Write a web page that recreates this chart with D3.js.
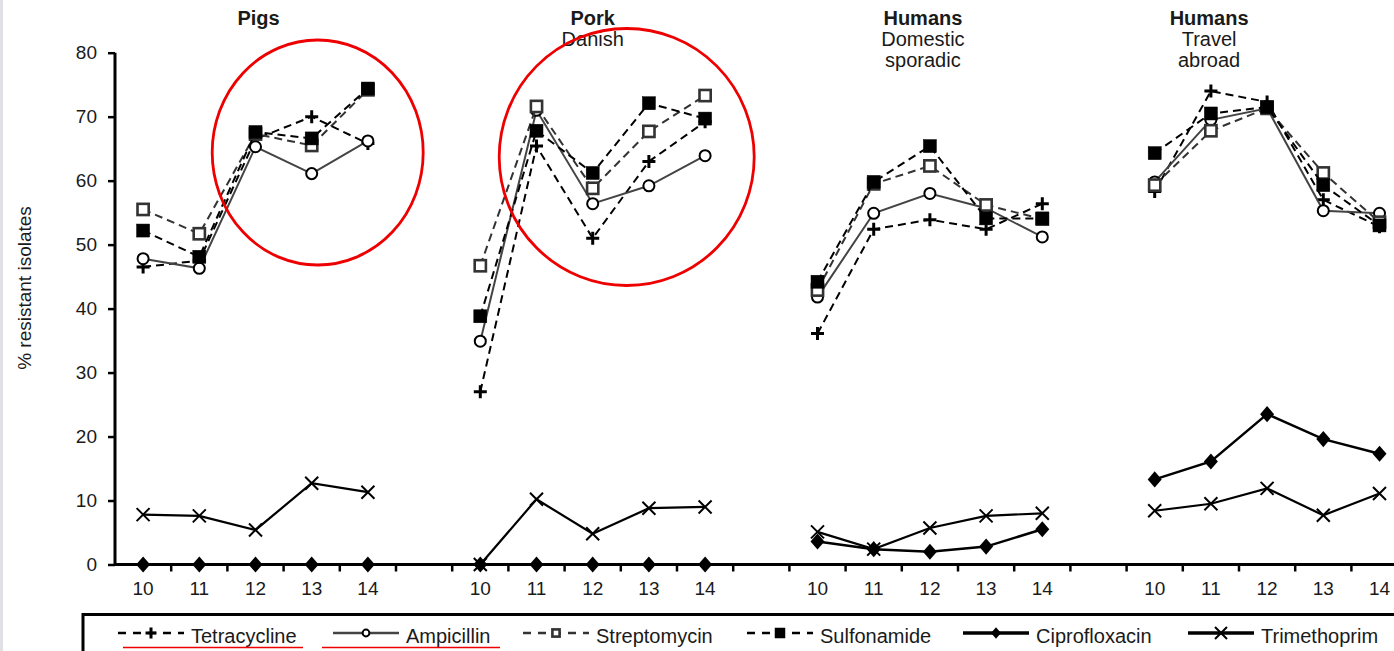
<!DOCTYPE html>
<html>
<head>
<meta charset="utf-8">
<script src="https://cdn.jsdelivr.net/npm/d3@7"></script>
<style>
    body { margin: 0; background: #fff; }
    text { font-family: "Liberation Sans", Arial, sans-serif; fill: #1a1a1a; }
</style>
</head>
<body>
<svg id="svgArea" width="1394" height="651"></svg>
<script>
// years on the x axis, repeated for every group
var years = ["10", "11", "12", "13", "14"];
var groups = ["Pigs", "Pork", "HumansDomestic", "HumansTravel"];
var groupTitles = [["Pigs"], ["Pork", "Danish"], ["Humans", "Domestic", "sporadic"], ["Humans", "Travel", "abroad"]];
var yTicks = [0, 10, 20, 30, 40, 50, 60, 70, 80];

// % resistant isolates, 5 years per group, groups in order above
var tetracycline  = [46.5, 47.5, 66.5, 70.0, 65.8,  27.0, 65.4, 51.0, 63.0, 69.2,  36.1, 52.4, 53.9, 52.4, 56.4,  58.3, 74.0, 72.3, 57.0, 52.8];
var ampicillin    = [47.8, 46.3, 65.3, 61.1, 66.2,  34.9, 71.0, 56.4, 59.2, 63.9,  41.8, 54.9, 58.0, 55.7, 51.2,  59.8, 69.5, 71.3, 55.3, 54.9];
var streptomycin  = [55.5, 51.7, 67.3, 65.5, 74.2,  46.7, 71.6, 58.8, 67.7, 73.3,  42.9, 59.5, 62.3, 56.2, 54.0,  59.3, 67.8, 71.3, 61.2, 53.5];
var sulfonamide   = [52.2, 48.1, 67.6, 66.6, 74.4,  38.8, 67.8, 61.2, 72.1, 69.7,  44.2, 59.8, 65.4, 54.1, 54.1,  64.3, 70.5, 71.5, 59.3, 53.0];
var ciprofloxacin = [0, 0, 0, 0, 0,  0, 0, 0, 0, 0,  3.6, 2.4, 2.0, 2.8, 5.5,  13.3, 16.1, 23.5, 19.6, 17.3];
var trimethoprim  = [7.8, 7.6, 5.4, 12.7, 11.3,  0.0, 10.2, 4.8, 8.8, 9.0,  5.1, 2.4, 5.7, 7.6, 8.0,  8.4, 9.5, 11.9, 7.7, 11.1];

var series = [
    { name: "Tetracycline",  values: tetracycline,  marker: "plus",    dash: "8,5", color: "#000", width: 2 },
    { name: "Ampicillin",    values: ampicillin,    marker: "circle",  dash: null,  color: "#444", width: 2 },
    { name: "Streptomycin",  values: streptomycin,  marker: "osquare", dash: "8,5", color: "#333", width: 2 },
    { name: "Sulfonamide",   values: sulfonamide,   marker: "square",  dash: "8,5", color: "#000", width: 2 },
    { name: "Ciprofloxacin", values: ciprofloxacin, marker: "diamond", dash: null,  color: "#000", width: 2.5 },
    { name: "Trimethoprim",  values: trimethoprim,  marker: "cross",   dash: null,  color: "#000", width: 2.2 }
];

var svg = d3.select("#svgArea");
var axisLeft = 115, axisBottom = 564.5, axisTop = 52.7;

// every group takes 5 slots plus an empty slot as gap
var slots = [];
groups.forEach(function (g, gi) {
    years.forEach(function (yr) { slots.push(g + "-" + yr); });
    if (gi < groups.length - 1) slots.push(g + "-gap");
});
slots.push("end-gap");

var x = d3.scaleBand().domain(slots).range([axisLeft, axisLeft + slots.length * 56.2]).padding(0);
var y = d3.scaleLinear().domain([0, 80]).range([axisBottom, axisTop]);

function slotKey(i) {
    return groups[Math.floor(i / 5)] + "-" + years[i % 5];
}
function cx(i) { return x(slotKey(i)) + x.bandwidth() / 2; }

svg.append("rect").attr("width", 1394).attr("height", 651).attr("fill", "#fff");
svg.append("rect").attr("x", 0).attr("y", 0).attr("width", 3).attr("height", 651).attr("fill", "#dfe1e6");

// y axis
var yAxis = svg.append("g")
    .attr("transform", "translate(" + axisLeft + ",0)")
    .call(d3.axisLeft(y).tickValues(yTicks).tickSize(7).tickPadding(11));
yAxis.select(".domain").attr("stroke", "#000").attr("stroke-width", 3).attr("d", "M0," + axisTop + "V" + axisBottom);
yAxis.selectAll(".tick line").attr("stroke", "#000").attr("stroke-width", 2.5);
yAxis.selectAll(".tick text").attr("font-size", 19).attr("fill", "#1a1a1a")
    .style("font-family", "'Liberation Sans', Arial, sans-serif");

// x axis: labels under the categories, tick marks on the slot boundaries
var xAxis = svg.append("g")
    .attr("transform", "translate(0," + axisBottom + ")")
    .call(d3.axisBottom(x)
        .tickValues(d3.range(20).map(slotKey))
        .tickSize(0).tickPadding(17)
        .tickFormat(function (d) { return d.split("-")[1]; }));
xAxis.select(".domain").remove();
xAxis.selectAll(".tick text").attr("font-size", 19).attr("fill", "#1a1a1a")
    .style("font-family", "'Liberation Sans', Arial, sans-serif");

svg.append("line")
    .attr("x1", axisLeft - 1).attr("x2", 1394)
    .attr("y1", axisBottom).attr("y2", axisBottom)
    .attr("stroke", "#000").attr("stroke-width", 3);
svg.selectAll(".bound").data(slots.slice(1)).enter().append("line")
    .attr("class", "bound")
    .attr("x1", function (d) { return x(d); }).attr("x2", function (d) { return x(d); })
    .attr("y1", axisBottom).attr("y2", axisBottom + 7)
    .attr("stroke", "#000").attr("stroke-width", 2.5);

// y label
svg.append("text")
    .attr("transform", "translate(31,288) rotate(-90)")
    .attr("text-anchor", "middle")
    .attr("font-size", 19)
    .attr("fill", "#333")
    .text("% resistant isolates");

// group titles
var titleShift = [3, 0, -7, -58];
groupTitles.forEach(function (lines, gi) {
    var tx = cx(gi * 5 + 2) + titleShift[gi];
    lines.forEach(function (t, li) {
        svg.append("text")
            .attr("x", tx).attr("y", 24.5 + li * 21)
            .attr("text-anchor", "middle")
            .attr("font-size", 20)
            .attr("font-weight", li === 0 ? "bold" : "normal")
            .text(t);
    });
});

function drawMarker(g, type, px, py, s, color) {
    var h = s / 2;
    if (type === "plus") {
        g.append("path").attr("d", "M" + (px - h) + "," + py + "H" + (px + h) + "M" + px + "," + (py - h) + "V" + (py + h))
            .attr("stroke", "#000").attr("stroke-width", 3).attr("fill", "none");
    } else if (type === "circle") {
        g.append("circle").attr("cx", px).attr("cy", py).attr("r", h * 0.85)
            .attr("fill", "#fff").attr("stroke", "#000").attr("stroke-width", 2);
    } else if (type === "osquare") {
        g.append("rect").attr("x", px - h * 0.8).attr("y", py - h * 0.8).attr("width", s * 0.8).attr("height", s * 0.8)
            .attr("fill", "#fff").attr("stroke", color).attr("stroke-width", 2.6);
    } else if (type === "square") {
        g.append("rect").attr("x", px - h).attr("y", py - h).attr("width", s).attr("height", s)
            .attr("fill", "#000").attr("stroke", "#000").attr("stroke-width", 0.5);
    } else if (type === "diamond") {
        g.append("path").attr("d", "M" + px + "," + (py - h * 1.15) + "L" + (px + h) + "," + py + "L" + px + "," + (py + h * 1.15) + "L" + (px - h) + "," + py + "Z")
            .attr("fill", "#000");
    } else if (type === "cross") {
        g.append("path").attr("d", "M" + (px - h) + "," + (py - h) + "L" + (px + h) + "," + (py + h) + "M" + (px - h) + "," + (py + h) + "L" + (px + h) + "," + (py - h))
            .attr("stroke", "#000").attr("stroke-width", 2).attr("fill", "none");
    }
}

var line = d3.line()
    .x(function (d) { return cx(d.i); })
    .y(function (d) { return y(d.v); });

var markerSize = { plus: 13, circle: 13, osquare: 14, square: 13, diamond: 14, cross: 13 };

series.forEach(function (s) {
    var g = svg.append("g");
    var pts = s.values.map(function (v, i) { return { i: i, v: v }; });
    groups.forEach(function (grp, gi) {
        g.append("path")
            .datum(pts.slice(gi * 5, gi * 5 + 5))
            .attr("d", line)
            .attr("fill", "none")
            .attr("stroke", s.color)
            .attr("stroke-width", s.width)
            .attr("stroke-dasharray", s.dash);
    });
    pts.forEach(function (p) {
        drawMarker(g, s.marker, cx(p.i), y(p.v), markerSize[s.marker], s.color);
    });
});

// red annotation circles
svg.append("ellipse")
    .attr("cx", cx(3) + 6).attr("cy", y(64.4)).attr("rx", 105.5).attr("ry", 112.5)
    .attr("fill", "none").attr("stroke", "#ee0000").attr("stroke-width", 2.8);
svg.append("ellipse")
    .attr("cx", cx(7) + 34).attr("cy", y(63.7)).attr("rx", 127.5).attr("ry", 128.5)
    .attr("fill", "none").attr("stroke", "#ee0000").attr("stroke-width", 2.8);

// legend
svg.append("rect")
    .attr("x", 83).attr("y", 614.5).attr("width", 1400).attr("height", 80)
    .attr("fill", "none").attr("stroke", "#000").attr("stroke-width", 3);

var legendAt = [118, 333, 523, 747, 963, 1188];
var legendSize = { plus: 11, circle: 8, osquare: 9, square: 10, diamond: 10, cross: 12 };
var ly = 633;
series.forEach(function (s, i) {
    var lx = legendAt[i];
    var g = svg.append("g");
    g.append("line")
        .attr("x1", lx).attr("x2", lx + 66)
        .attr("y1", ly).attr("y2", ly)
        .attr("stroke", s.color)
        .attr("stroke-width", s.marker === "diamond" || s.marker === "cross" ? 3.5 : 2.5)
        .attr("stroke-dasharray", s.dash ? "8,7" : null);
    drawMarker(g, s.marker, lx + 33, ly, legendSize[s.marker], s.color);
    g.append("text")
        .attr("x", lx + 73).attr("y", 643)
        .attr("font-size", 20)
        .text(s.name);
});

// red underlines below the first two legend names
svg.append("line").attr("x1", 123).attr("x2", 303).attr("y1", 647.5).attr("y2", 647.5)
    .attr("stroke", "#ee0000").attr("stroke-width", 1.6);
svg.append("line").attr("x1", 322).attr("x2", 500).attr("y1", 647.5).attr("y2", 647.5)
    .attr("stroke", "#ee0000").attr("stroke-width", 1.6);
</script>
</body>
</html>
